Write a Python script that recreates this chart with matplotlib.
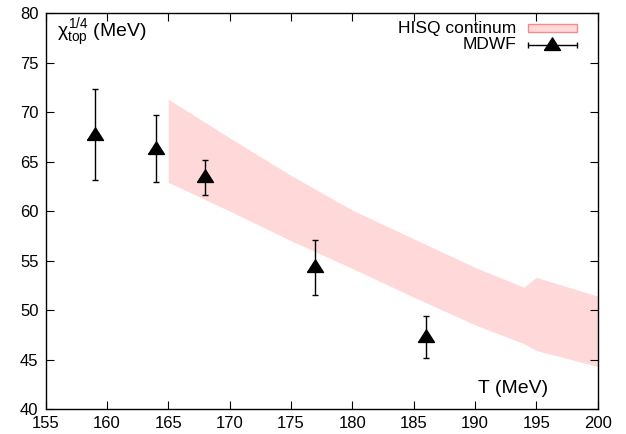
import numpy as np
import matplotlib
matplotlib.use("Agg")
import matplotlib.pyplot as plt

plt.rcParams['font.family'] = ['Liberation Sans', 'DejaVu Sans']
plt.rcParams['mathtext.fontset'] = 'custom'
plt.rcParams['mathtext.rm'] = 'Liberation Sans'
plt.rcParams['mathtext.it'] = 'Liberation Sans'

# HISQ continuum band
band_T = [165, 170, 175, 180, 185, 190, 194, 195, 200]
band_hi = [71.3, 67.4, 63.6, 60.1, 57.2, 54.3, 52.3, 53.3, 51.4]
band_lo = [62.9, 60.0, 57.0, 54.2, 51.3, 48.5, 46.6, 45.9, 44.3]

# MDWF points
mdwf_T = [159, 164, 168, 177, 186]
mdwf_chi = [67.7, 66.3, 63.4, 54.3, 47.3]
mdwf_err = [4.6, 3.4, 1.8, 2.8, 2.1]

fig = plt.figure(figsize=(6.26, 4.34), dpi=100)
ax = fig.add_axes([0.0727, 0.0576, 0.8821, 0.9124])

ax.fill_between(band_T, band_lo, band_hi, color='#ffd9d9', lw=0)

# gnuplot style triangle
tri = [(-1, -0.62), (1, -0.62), (0, 0.95), (-1, -0.62)]
ax.errorbar(mdwf_T, mdwf_chi, yerr=mdwf_err, fmt='none', ecolor='black',
            elinewidth=1, capsize=2, capthick=1)
ax.plot(mdwf_T, mdwf_chi, ls='none', marker=tri, ms=11.5, color='black')

ax.set_xlim(155, 200)
ax.set_ylim(40, 80)
ax.set_xticks(np.arange(155, 201, 5))
ax.set_yticks(np.arange(40, 81, 5))
ax.tick_params(direction='in', length=6, width=0.8, top=True, right=True,
               labelsize=12, pad=5)
for s in ax.spines.values():
    s.set_linewidth(1)

ax.text(0.02, 0.99, r'$\chi_{\rm top}^{1/4}$ (MeV)', transform=ax.transAxes,
        ha='left', va='top', fontsize=14)
ax.text(0.91, 0.03, 'T (MeV)', transform=ax.transAxes,
        ha='right', va='bottom', fontsize=14)

# legend drawn as in gnuplot: text right aligned, sample on the right
ax.text(0.852, 0.962, 'HISQ continum', transform=ax.transAxes,
        ha='right', va='center', fontsize=12.5)
ax.text(0.852, 0.92, 'MDWF', transform=ax.transAxes,
        ha='right', va='center', fontsize=12.5)
ax.add_patch(plt.Rectangle((0.873, 0.951), 0.089, 0.022, transform=ax.transAxes,
                           facecolor='#ffd9d9', edgecolor='#f08c8c', lw=1))
ax.errorbar([0.9175], [0.92], xerr=[0.0445], transform=ax.transAxes,
            fmt='none', ecolor='black', elinewidth=1, capsize=2, capthick=1)
ax.plot([0.9175], [0.92], transform=ax.transAxes, ls='none', marker=tri,
        ms=11.5, color='black')

fig.savefig('out.png', dpi=100)
